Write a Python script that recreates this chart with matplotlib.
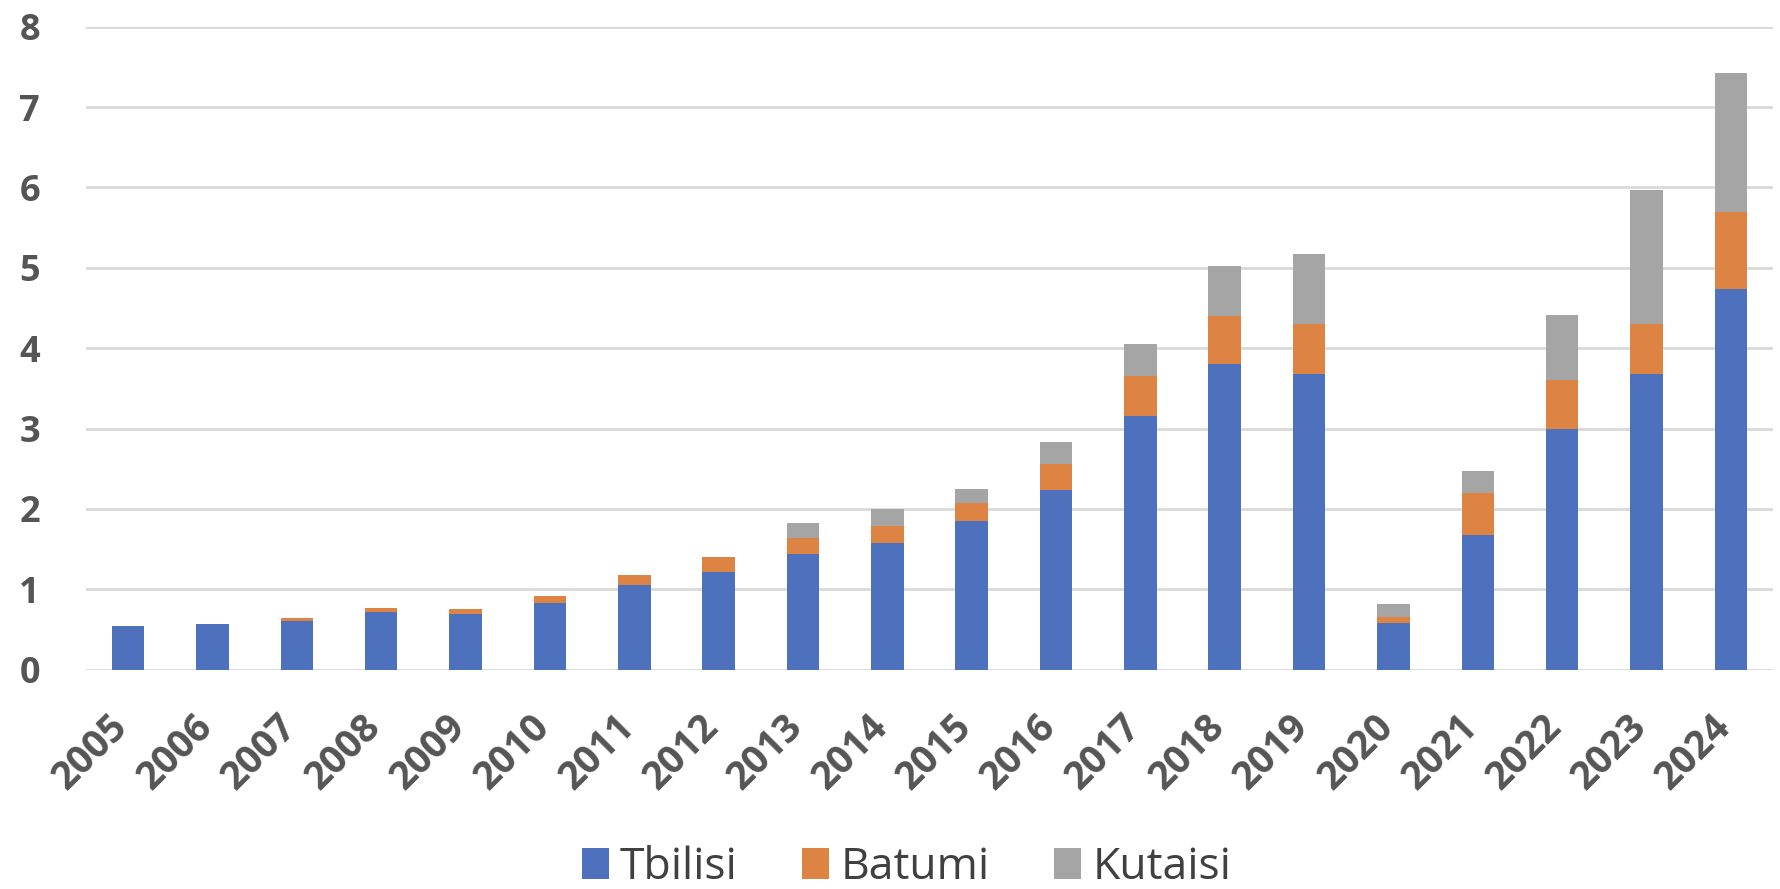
import matplotlib.pyplot as plt
import matplotlib.transforms as mtransforms
import numpy as np

years = [str(y) for y in range(2005, 2025)]
tbilisi = [0.54, 0.57, 0.61, 0.72, 0.69, 0.83, 1.05, 1.22, 1.44, 1.57,
           1.85, 2.24, 3.15, 3.80, 3.68, 0.58, 1.68, 3.00, 3.68, 4.74]
batumi = [0.0, 0.0, 0.03, 0.05, 0.07, 0.08, 0.13, 0.18, 0.20, 0.22,
          0.22, 0.32, 0.50, 0.60, 0.62, 0.07, 0.52, 0.61, 0.62, 0.95]
kutaisi = [0.0, 0.0, 0.0, 0.0, 0.0, 0.0, 0.0, 0.0, 0.19, 0.21,
           0.18, 0.27, 0.40, 0.62, 0.87, 0.17, 0.27, 0.80, 1.67, 1.73]

colors = ['#4E71BE', '#DD8344', '#A5A5A5']
labels = ['Tbilisi', 'Batumi', 'Kutaisi']

plt.rcParams['font.family'] = ['Open Sans', 'DejaVu Sans']

fig = plt.figure(figsize=(17.81, 8.89), dpi=100)
ax = fig.add_axes([0.0483, 0.2468, 0.9472, 0.7231])

x = np.arange(len(years))
w = 0.385
t = np.array(tbilisi)
b = np.array(batumi)
k = np.array(kutaisi)
ax.bar(x, t, w, color=colors[0], label=labels[0], zorder=3)
ax.bar(x, b, w, bottom=t, color=colors[1], label=labels[1], zorder=3)
ax.bar(x, k, w, bottom=t + b, color=colors[2], label=labels[2], zorder=3)

ax.set_xlim(-0.5, len(years) - 0.5)
ax.set_ylim(0, 8)
ax.set_yticks(range(0, 9))
ax.yaxis.grid(True, color='#D9D9D9', linewidth=2, zorder=0)
ax.set_axisbelow(True)
for s in ax.spines.values():
    s.set_visible(False)

ax.set_xticks(x)
ax.set_xticklabels(years, rotation=45, ha='right', va='center', rotation_mode='anchor',
                   fontsize=28, fontweight='bold', color='#555555')
ax.tick_params(axis='both', length=0)
ax.tick_params(axis='x', pad=37)
ax.tick_params(axis='y', pad=48)
shift = mtransforms.ScaledTranslation(-0.06, 0, fig.dpi_scale_trans)
for lab in ax.get_xticklabels():
    lab.set_transform(lab.get_transform() + shift)
for lab in ax.get_yticklabels():
    lab.set_fontsize(26)
    lab.set_fontweight('bold')
    lab.set_color('#555555')
    lab.set_horizontalalignment('left')

fig.legend(loc='center', bbox_to_anchor=(0.509, 0.024), ncol=3, frameon=False,
           prop={'size': 32}, handlelength=0.6, handleheight=0.7,
           handletextpad=0.26, columnspacing=1.45, labelcolor='#404040',
           borderpad=0)

fig.savefig('out.png', dpi=100)
